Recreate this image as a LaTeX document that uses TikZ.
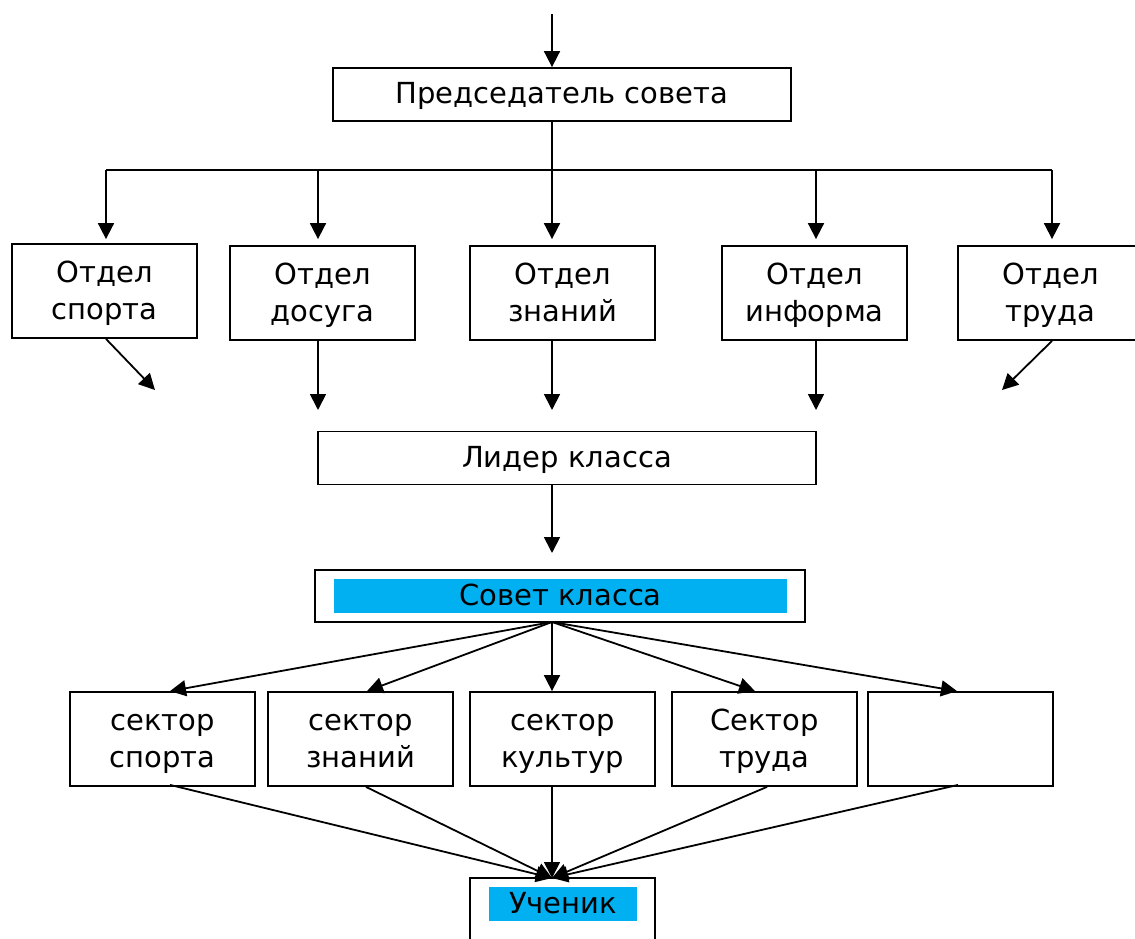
\documentclass[tikz,border=0pt]{standalone}
\usepackage{fontspec}
\setmainfont{DejaVu Sans}
\usetikzlibrary{arrows.meta}
\definecolor{cyanfill}{RGB}{0,176,240}
\newcommand\ms{\rule[-9pt]{0pt}{37pt}}
\begin{document}
\begin{tikzpicture}[x=1pt,y=-1pt,
  lw/.style={line width=1.8pt},
  box/.style={draw, lw, inner sep=0pt, align=center, minimum width=185pt, minimum height=94pt, font={\fontsize{29}{37}\selectfont}},
  wide/.style={draw, lw, inner sep=0pt, minimum height=53pt, font={\fontsize{29}{37}\selectfont}},
  hl/.style={fill=cyanfill, inner xsep=0pt, inner ysep=-1.5pt, font={\fontsize{29}{37}\selectfont}},
  arr/.style={lw, -{Triangle[length=16pt,width=16pt]}},
  ln/.style={lw}]
\useasboundingbox (0,0) rectangle (1135,939);
\clip (0,0) rectangle (1135,939);
\fill[white] (0,0) rectangle (1135,939);
% top
\node[wide, minimum width=458pt] (pred) at (562,94.5) {\ms Председатель совета};
% departments
\node[box] (d1) at (104.5,291) {\ms Отдел\\\ms спорта};
\node[box] (d2) at (322.5,293) {\ms Отдел\\\ms досуга};
\node[box] (d3) at (562.5,293) {\ms Отдел\\\ms знаний};
\node[box] (d4) at (814.5,293) {\ms Отдел\\\ms информа};
\node[box] (d5) at (1050.5,293) {\ms Отдел\\\ms труда};
% leader
\node[wide, minimum width=498pt] (lid) at (567,458) {\ms Лидер класса};
% council
\node[draw, lw, minimum width=490pt, minimum height=52pt, inner sep=0pt] (sov) at (560,596) {};
\node[hl, minimum width=453pt] (sovt) at (560.5,596) {\ms Совет класса};
% sectors
\node[box] (s1) at (162.5,739) {\ms сектор\\\ms спорта};
\node[box] (s2) at (360.5,739) {\ms сектор\\\ms знаний};
\node[box] (s3) at (562.5,739) {\ms сектор\\\ms культур};
\node[box] (s4) at (764.5,739) {\ms Сектор\\\ms труда};
\node[box] (s5) at (960.5,739) {};
% pupil
\node[draw, lw, minimum width=185pt, minimum height=120pt, inner sep=0pt] (uch) at (562.5,938) {};
\node[hl, minimum width=148pt] (ucht) at (563,904) {\ms Ученик};
% coordinates
\coordinate (top) at (552,14);
\coordinate (b1) at (106,170);
\coordinate (b2) at (318,170);
\coordinate (b3) at (552,170);
\coordinate (b4) at (816,170);
\coordinate (b5) at (1052,170);
\coordinate (t1) at (155,390);
\coordinate (t2) at (318,410);
\coordinate (t3) at (552,410);
\coordinate (t4) at (816,410);
\coordinate (t5) at (1002,390);
\coordinate (t6) at (552,553);
\coordinate (sovS) at (552,622);
\coordinate (uchN) at (552,878);
% connectors top
\draw[arr] (top) -- (top |- pred.north);
\draw[ln] (b1) -- (b5);
\draw[arr, shorten >=4pt] (b1) -- (b1 |- d1.north);
\draw[arr, shorten >=6pt] (b2) -- (b2 |- d2.north);
\draw[arr, shorten >=6pt] (b3 |- pred.south) -- (b3 |- d3.north);
\draw[arr, shorten >=6pt] (b4) -- (b4 |- d4.north);
\draw[arr, shorten >=6pt] (b5) -- (b5 |- d5.north);
% departments to leader
\draw[arr] ([xshift=1.5pt]d1.south) -- (t1);
\draw[arr] (t2 |- d2.south) -- (t2);
\draw[arr] (t3 |- d3.south) -- (t3);
\draw[arr] (t4 |- d4.south) -- (t4);
\draw[arr] ([xshift=1.5pt]d5.south) -- (t5);
\draw[arr] (t6 |- lid.south) -- (t6);
% council to sectors
\draw[arr] (sovS) -- ([xshift=7.5pt]s1.north);
\draw[arr] (sovS) -- ([xshift=6.5pt]s2.north);
\draw[arr] (sovS) -- ([xshift=-10.5pt]s3.north);
\draw[arr] (sovS) -- ([xshift=-9.5pt]s4.north);
\draw[arr] (sovS) -- ([xshift=-3.5pt]s5.north);
% sectors to pupil
\draw[arr] ([xshift=7.5pt,yshift=2pt]s1.south) -- (uchN);
\draw[arr] ([xshift=5.5pt]s2.south) -- (uchN);
\draw[arr] ([xshift=-10.5pt,yshift=2pt]s3.south) -- (uchN);
\draw[arr] ([xshift=2.5pt]s4.south) -- (uchN);
\draw[arr] ([xshift=-2.5pt,yshift=2pt]s5.south) -- (uchN);
\end{tikzpicture}
\end{document}
